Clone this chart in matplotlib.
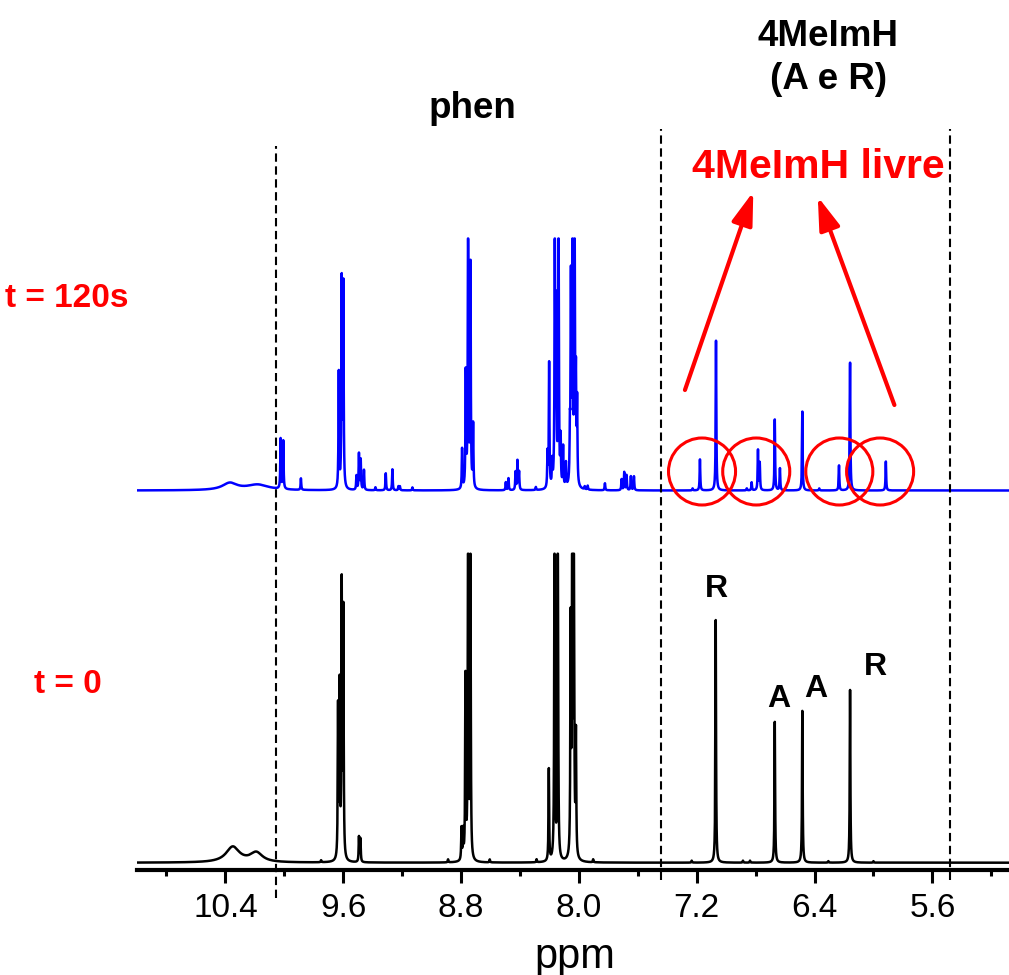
import numpy as np
import matplotlib.pyplot as plt
from matplotlib.patches import Ellipse
from matplotlib.ticker import MultipleLocator, FormatStrFormatter

plt.rcParams['font.family'] = ['Liberation Sans', 'DejaVu Sans']

# 1H NMR peaks: shift (ppm) and height (a.u.), t = 0
t0_shift = [9.635, 9.624, 9.610, 9.599, 9.493, 9.483,
            8.797, 8.786, 8.770, 8.752, 8.736,
            8.204, 8.165, 8.143, 8.056, 8.045, 8.034, 8.020,
            9.750, 8.888, 8.605, 8.287, 7.903,
            7.071, 6.670, 6.483, 6.159,
            7.234, 6.886, 6.838, 6.306, 6.000]
t0_height = [150, 170, 270, 245, 25, 23,
             32, 28, 182, 400, 300,
             92, 400, 400, 230, 400, 400, 120,
             2, 3, 3, 3, 3,
             243, 141, 152, 173,
             2, 2, 2, 1.5, 1.5]
# broad NH humps
t0_broad_shift = [10.35, 10.19]
t0_broad_height = [15.5, 9.5]
t0_broad_hwhm = [0.055, 0.05]

# t = 120 s
t120_shift = [10.025, 10.007, 9.887,
              9.630, 9.610, 9.599,
              9.510, 9.493, 9.481, 9.459, 9.381, 9.311, 9.266, 9.225, 9.215, 9.130,
              8.793, 8.768, 8.752, 8.736, 8.718,
              8.496, 8.478, 8.430, 8.417, 8.406, 8.292,
              8.213, 8.202, 8.181, 8.163, 8.154, 8.138, 8.124, 8.107, 8.088,
              8.061, 8.054, 8.043, 8.029, 8.020, 8.012,
              7.960, 7.940, 7.823, 7.710, 7.692, 7.676, 7.647, 7.626,
              7.228, 7.178, 7.069, 6.860, 6.827, 6.784, 6.772, 6.670, 6.635,
              6.483, 6.368, 6.234, 6.159, 5.916]
t120_height = [50, 48, 11.5,
               116, 206, 201,
               14, 36, 30, 20, 3, 17, 21, 4, 4, 3,
               40, 114, 300, 222, 63,
               8, 12, 18, 29, 18, 3,
               34, 125, 24, 300, 170, 300, 46, 40, 24,
               49, 200, 300, 300, 100, 80,
               3, 4, 7, 11, 18, 15, 14, 14,
               2, 31, 150, 2, 8, 40, 27, 71, 22,
               79, 2, 25, 128, 29]
t120_broad_shift = [10.37, 10.18]
t120_broad_height = [7.0, 5.5]
t120_broad_hwhm = [0.06, 0.09]

# free 4MeImH signals picked out in the t = 120 s trace
free_ligand_ppm = [7.164, 6.796, 6.232, 5.955]

# assignment of the t = 0 imidazole signals
label_text = ['R', 'A', 'A', 'R']
label_ppm = [7.065, 6.646, 6.393, 5.989]
label_y = [265.4, 156, 166, 187.7]

LINE_HWHM = 0.0025
T0_CLIP = 309
T120_CLIP = 252
T120_OFFSET = 372.2


def lorentz_sum(ppm, shifts, heights, hwhm):
    spec = np.zeros_like(ppm)
    for s, h, w in zip(shifts, heights, hwhm):
        spec += h / (1 + ((ppm - s) / w) ** 2)
    return spec


ppm = np.arange(5.0, 11.1, 0.0003)
spec_t0 = lorentz_sum(ppm, t0_shift, t0_height, [LINE_HWHM] * len(t0_shift))
spec_t0 += lorentz_sum(ppm, t0_broad_shift, t0_broad_height, t0_broad_hwhm)
spec_t0 = np.minimum(spec_t0, T0_CLIP)

spec_t120 = lorentz_sum(ppm, t120_shift, t120_height, [LINE_HWHM] * len(t120_shift))
spec_t120 += lorentz_sum(ppm, t120_broad_shift, t120_broad_height, t120_broad_hwhm)
spec_t120 = np.minimum(spec_t120, T120_CLIP) + T120_OFFSET

fig = plt.figure(figsize=(10.09, 9.75), dpi=100)
ax = fig.add_axes([137 / 1009, 105 / 975, 872 / 1009, 870 / 975])

ax.plot(ppm, spec_t0, color='black', lw=1.8)
ax.plot(ppm, spec_t120, color='#0000ff', lw=1.8)

ax.set_xlim(11.0, 5.08)
ax.set_ylim(-7.3, 862.7)

for side in ['top', 'left', 'right']:
    ax.spines[side].set_visible(False)
ax.spines['bottom'].set_linewidth(3)
ax.set_yticks([])
ax.xaxis.set_major_locator(MultipleLocator(0.8))
ax.xaxis.set_minor_locator(MultipleLocator(0.4))
ax.xaxis.set_major_formatter(FormatStrFormatter('%.1f'))
ax.tick_params(axis='x', which='major', direction='out', length=9.5, width=2.2,
               labelsize=24, pad=7)
ax.tick_params(axis='x', which='minor', direction='out', length=4.5, width=2.2)

# region separators
for x, y0, y1 in [(10.054, -35, 716.7), (7.445, -17, 733.7), (5.48, -17, 733.7)]:
    ax.plot([x, x], [y0, y1], color='black', lw=1.5, dashes=(4, 2.2), clip_on=False)

# region titles
ax.text(8.72, 744.4, 'phen', ha='center', va='baseline', fontsize=26.5, fontweight='bold')
ax.text(6.308, 817, '4MeImH', ha='center', va='baseline', fontsize=26.5, fontweight='bold')
ax.text(6.308, 773.4, '(A e R)', ha='center', va='baseline', fontsize=26.5, fontweight='bold')

# trace labels
ax.text(11.478, 556, 't = 120s', ha='center', va='baseline', fontsize=24,
        fontweight='bold', color='red', clip_on=False)
ax.text(11.471, 169.4, 't = 0', ha='center', va='baseline', fontsize=24,
        fontweight='bold', color='red', clip_on=False)

for txt, x, y in zip(label_text, label_ppm, label_y):
    ax.text(x, y, txt, ha='center', va='baseline', fontsize=23, fontweight='bold')

# free ligand highlights
for c in free_ligand_ppm:
    ax.add_patch(Ellipse((c, T120_OFFSET + 19), width=67 / 147.2, height=67,
                         fill=False, edgecolor='red', lw=2.2, zorder=5))

ax.text(6.376, 685, '4MeImH livre', ha='center', va='baseline', fontsize=29.5,
        fontweight='bold', color='red')
for (x0, y0), (x1, y1) in [((7.280, 472.7), (6.816, 671)),
                           ((5.858, 457.7), (6.378, 666))]:
    ax.annotate('', xy=(x1, y1), xytext=(x0, y0),
                arrowprops=dict(arrowstyle='-|>,head_length=1.0,head_width=0.32',
                                mutation_scale=20, lw=3, color='red',
                                shrinkA=0, shrinkB=0))

fig.text(575 / 1009, 1 - 968 / 975, 'ppm', ha='center', va='baseline', fontsize=30)

fig.savefig('out.png', dpi=100)
